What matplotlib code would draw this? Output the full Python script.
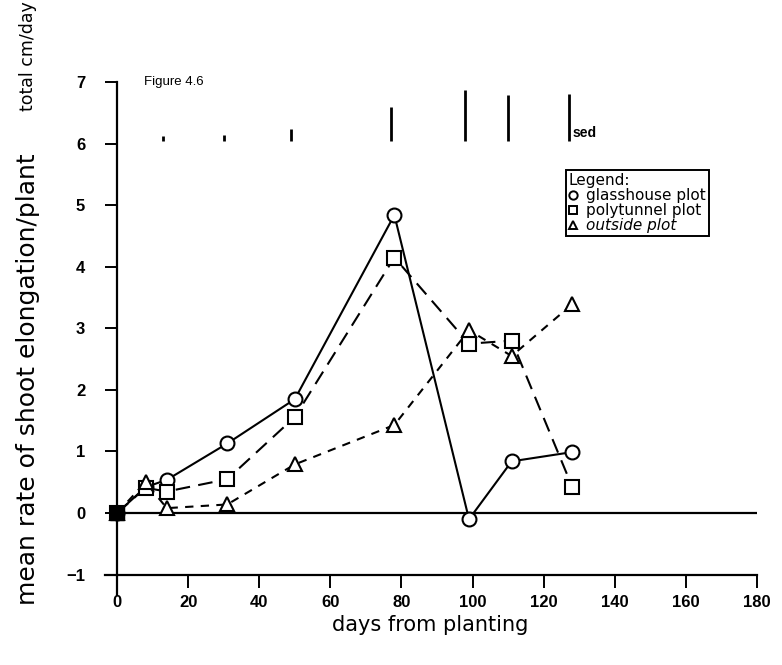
import matplotlib.pyplot as plt
from matplotlib.lines import Line2D

plt.rcParams['font.family'] = ['Liberation Sans', 'DejaVu Sans']

# days after planting for each sampling
days = [0, 8, 14, 31, 50, 78, 99, 111, 128]

# mean shoot elongation rate (total cm/day per plant)
glasshouse = [0, 0.42, 0.54, 1.13, 1.85, 4.84, -0.10, 0.84, 0.99]
polytunnel = [0, 0.41, 0.35, 0.55, 1.56, 4.15, 2.75, 2.80, 0.43]
outside = [0, 0.50, 0.08, 0.14, 0.79, 1.43, 2.97, 2.55, 3.39]

# standard error of difference bars along the top
sed_days = [13, 30, 49, 77, 98, 110, 127]
sed = [0.08, 0.10, 0.20, 0.55, 0.83, 0.75, 0.76]
sed_base = 6.04

x_ticks = [0, 20, 40, 60, 80, 100, 120, 140, 160, 180]
y_ticks = [-1, 0, 1, 2, 3, 4, 5, 6, 7]

fig = plt.figure(figsize=(7.82, 6.65), dpi=100)
ax = fig.add_axes([0.1338, 0.1053, 0.8342, 0.7714])
ax.set_xlim(-3.5, 180)
ax.set_ylim(-1.33, 7.0)

for s in ['top', 'right']:
    ax.spines[s].set_visible(False)
ax.spines['left'].set_position(('data', 0))
ax.spines['bottom'].set_position(('data', -1))
ax.spines['left'].set_bounds(-1.33, 7)
ax.spines['bottom'].set_bounds(-3.5, 180)
ax.spines['left'].set_linewidth(1.6)
ax.spines['bottom'].set_linewidth(1.6)

ax.set_xticks(x_ticks)
ax.set_yticks(y_ticks)
ax.set_yticklabels(['\u22121' if t < 0 else str(t) for t in y_ticks])
ax.tick_params(axis='both', direction='out', length=9, width=1.4,
               labelsize=12)
ax.tick_params(axis='x', pad=6)
ax.tick_params(axis='y', pad=14)
for lab in ax.get_xticklabels() + ax.get_yticklabels():
    lab.set_fontweight('bold')

# zero reference line
ax.plot([0, 180], [0, 0], color='black', lw=1.6, zorder=1)

ms = 10
ax.plot(days, glasshouse, '-', color='black', lw=1.5, marker='o',
        ms=ms, mfc='white', mec='black', mew=1.5, zorder=3)
ax.plot(days, polytunnel, color='black', lw=1.5, ls=(0, (7, 4)), marker='s',
        ms=ms, mfc='white', mec='black', mew=1.5, zorder=4)
ax.plot(days, outside, color='black', lw=1.5, ls=(0, (4, 3.5)), marker='^',
        ms=ms, mfc='white', mec='black', mew=1.5, zorder=5)
ax.plot(days[0], glasshouse[0], 's', color='black', ms=ms, zorder=6)

ax.vlines(sed_days, sed_base, [sed_base + v for v in sed], color='black', lw=2)
ax.text(sed_days[-1] + 1.2, sed_base + 0.02, 'sed', fontsize=10,
        fontweight='bold', va='bottom', ha='left')

ax.text(7.5, 7.0, 'Figure 4.6', fontsize=9.5, va='center', ha='left')

handles = [
    Line2D([], [], ls='none', marker='o', ms=6, mfc='white', mec='black', mew=1.4),
    Line2D([], [], ls='none', marker='s', ms=6, mfc='white', mec='black', mew=1.4),
    Line2D([], [], ls='none', marker='^', ms=6, mfc='white', mec='black', mew=1.4),
]
leg = ax.legend(handles, ['glasshouse plot', 'polytunnel plot', 'outside plot'],
                title='Legend:', alignment='left', loc='upper left',
                bbox_to_anchor=(0.707, 0.828), borderaxespad=0,
                prop={'family': 'DejaVu Sans', 'size': 11},
                title_fontproperties={'family': 'DejaVu Sans', 'size': 11},
                handlelength=0.6, handletextpad=0.5, labelspacing=0.0,
                borderpad=0.2, frameon=True, fancybox=False, edgecolor='black',
                framealpha=1)
leg.get_frame().set_linewidth(1.4)
leg.get_texts()[2].set_style('italic')

fig.text(0.55, 0.06, 'days from planting', fontsize=15, family='DejaVu Sans',
         ha='center', va='center')
fig.text(0.036, 0.43, 'mean rate of shoot elongation/plant', fontsize=18,
         family='DejaVu Sans', rotation=90, ha='center', va='center')
fig.text(0.036, 0.915, 'total cm/day', fontsize=12.5, family='DejaVu Sans',
         rotation=90, ha='center', va='center')

fig.savefig('out.png', dpi=100, facecolor='white')
